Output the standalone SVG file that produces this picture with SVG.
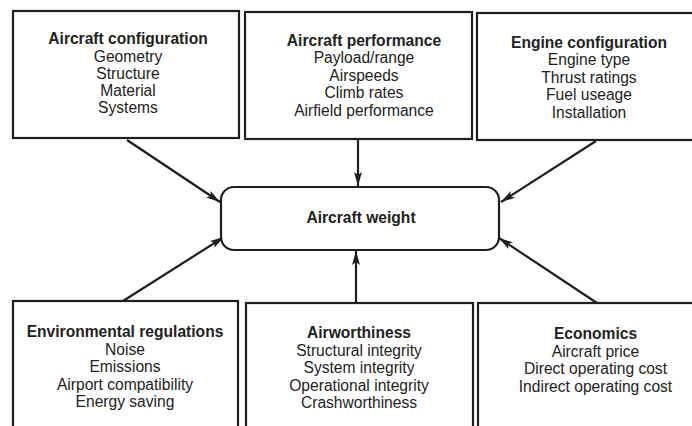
<svg xmlns="http://www.w3.org/2000/svg" width="692" height="426" viewBox="0 0 692 426">
  <style>
    .box { fill: none; stroke: #1e1e1e; stroke-width: 2.2; }
    .hub { fill: #ffffff; stroke: #1e1e1e; stroke-width: 2.2; }
    .t { font-family: "Liberation Sans", Arial, sans-serif; font-size: 15.6px; fill: #222; text-anchor: middle; }
    .h { font-weight: bold; }
    .link { stroke: #1e1e1e; stroke-width: 2.2; fill: none; marker-end: url(#head); }
  </style>
  <defs>
    <marker id="head" viewBox="0 0 14 8" refX="14" refY="4" markerWidth="14" markerHeight="8" markerUnits="userSpaceOnUse" orient="auto">
      <path d="M0,0 L14,4 L0,8 L3,4 Z" fill="#1e1e1e"/>
    </marker>
  </defs>
  <rect width="692" height="426" fill="#ffffff"/>

  <g id="connectors">
    <line class="link" x1="127" y1="140" x2="220" y2="202"/>
    <line class="link" x1="358" y1="140" x2="358" y2="186"/>
    <line class="link" x1="596" y1="141" x2="501" y2="202"/>
    <line class="link" x1="123" y1="301" x2="224" y2="237"/>
    <line class="link" x1="356" y1="303" x2="356" y2="251"/>
    <line class="link" x1="597" y1="303" x2="499" y2="238"/>
  </g>

  <g id="aircraft-weight">
    <rect class="hub" x="221" y="187" width="278" height="63" rx="13"/>
    <text class="t h" x="361" y="223">Aircraft weight</text>
  </g>

  <g id="aircraft-configuration">
    <rect class="box" x="13" y="11" width="226" height="127"/>
    <text class="t h" x="128" y="44">Aircraft configuration</text>
    <text class="t" x="128" y="62">Geometry</text>
    <text class="t" x="128" y="79">Structure</text>
    <text class="t" x="128" y="96">Material</text>
    <text class="t" x="128" y="113">Systems</text>
  </g>

  <g id="aircraft-performance">
    <rect class="box" x="245" y="12" width="227" height="127"/>
    <text class="t h" x="364" y="46">Aircraft performance</text>
    <text class="t" x="364" y="63">Payload/range</text>
    <text class="t" x="364" y="80.5">Airspeeds</text>
    <text class="t" x="364" y="98">Climb rates</text>
    <text class="t" x="364" y="115.5">Airfield performance</text>
  </g>

  <g id="engine-configuration">
    <rect class="box" x="477" y="13" width="230" height="127"/>
    <text class="t h" x="589" y="48">Engine configuration</text>
    <text class="t" x="589" y="65">Engine type</text>
    <text class="t" x="589" y="82.5">Thrust ratings</text>
    <text class="t" x="589" y="100">Fuel useage</text>
    <text class="t" x="589" y="117.5">Installation</text>
  </g>

  <g id="environmental-regulations">
    <rect class="box" x="13" y="301" width="225" height="140"/>
    <text class="t h" x="125" y="337">Environmental regulations</text>
    <text class="t" x="125" y="354.5">Noise</text>
    <text class="t" x="125" y="372">Emissions</text>
    <text class="t" x="125" y="389.5">Airport compatibility</text>
    <text class="t" x="125" y="407">Energy saving</text>
  </g>

  <g id="airworthiness">
    <rect class="box" x="246" y="303" width="227" height="140"/>
    <text class="t h" x="359" y="338">Airworthiness</text>
    <text class="t" x="359" y="355.5">Structural integrity</text>
    <text class="t" x="359" y="373">System integrity</text>
    <text class="t" x="359" y="390.5">Operational integrity</text>
    <text class="t" x="359" y="408">Crashworthiness</text>
  </g>

  <g id="economics">
    <rect class="box" x="478" y="303" width="230" height="140"/>
    <text class="t h" x="595.5" y="339">Economics</text>
    <text class="t" x="595.5" y="356.5">Aircraft price</text>
    <text class="t" x="595.5" y="374">Direct operating cost</text>
    <text class="t" x="595.5" y="391.5">Indirect operating cost</text>
  </g>
</svg>
